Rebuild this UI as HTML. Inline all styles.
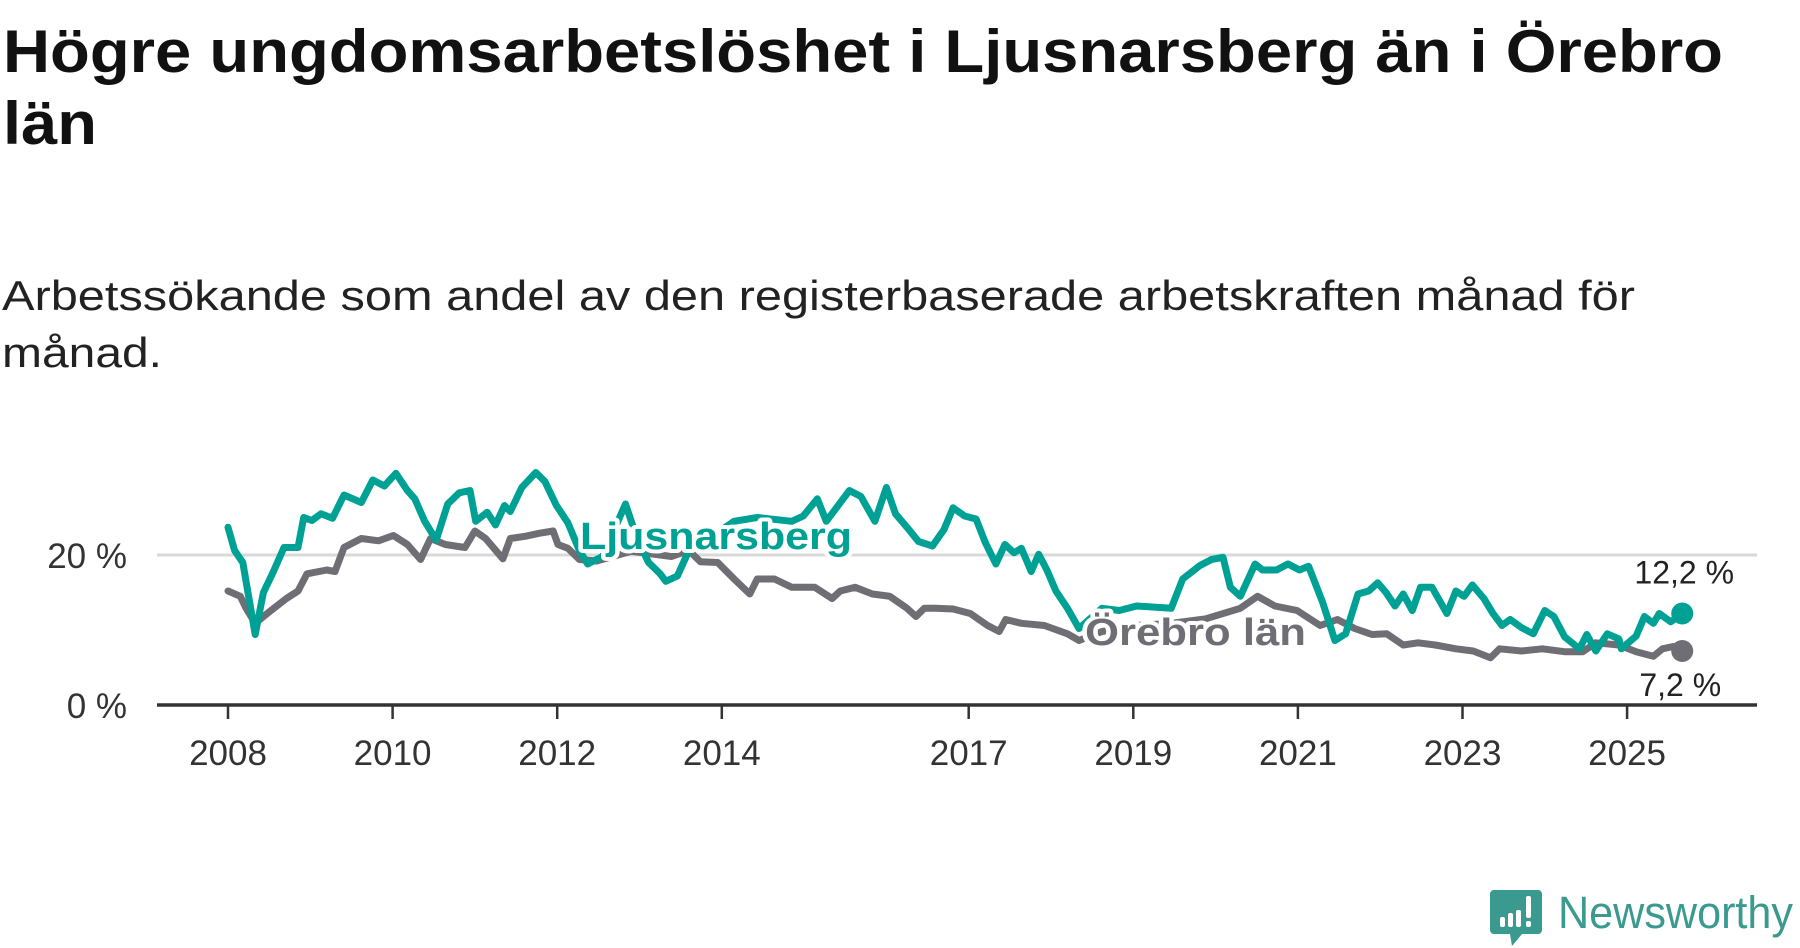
<!DOCTYPE html>
<html><head><meta charset="utf-8"><style>
html,body{margin:0;padding:0;background:#fff;}
svg{display:block;font-family:"Liberation Sans",sans-serif;}
</style></head><body>
<svg id="chart" width="1800" height="948" viewBox="0 0 1800 948" xmlns="http://www.w3.org/2000/svg">
<text x="3" y="72" font-size="60" font-weight="bold" fill="#111" textLength="1720" lengthAdjust="spacingAndGlyphs">Högre ungdomsarbetslöshet i Ljusnarsberg än i Örebro</text>
<text x="3" y="144" font-size="60" font-weight="bold" fill="#111" textLength="94" lengthAdjust="spacingAndGlyphs">län</text>
<text x="2" y="310" font-size="42" fill="#222" textLength="1633" lengthAdjust="spacingAndGlyphs">Arbetssökande som andel av den registerbaserade arbetskraften månad för</text>
<text x="2" y="367" font-size="42" fill="#222" textLength="160" lengthAdjust="spacingAndGlyphs">månad.</text>
<g id="plot"></g>
<g>
<path d="M1494 890 h44 a4 4 0 0 1 4 4 v36 a4 4 0 0 1 -4 4 h-16 l-10 12 l-2 -12 h-16 a4 4 0 0 1 -4 -4 v-36 a4 4 0 0 1 4 -4z" fill="#3a9a90"/>
<rect x="1500" y="917" width="5" height="10" rx="2" fill="#fff"/>
<rect x="1508" y="913" width="5" height="14" rx="2" fill="#fff"/>
<rect x="1516" y="910" width="5" height="17" rx="2" fill="#fff"/>
<rect x="1526" y="896" width="5" height="22" rx="2" fill="#fff"/>
<rect x="1526" y="921" width="5" height="6" rx="2" fill="#fff"/>
<text x="1558" y="928" font-size="45" fill="#3a9a90" textLength="235" lengthAdjust="spacingAndGlyphs">Newsworthy</text>
</g>
</svg>
<script>
const ljTimes=[2008.00,2008.08,2008.18,2008.33,2008.43,2008.54,2008.68,2008.85,2008.92,2009.02,2009.13,2009.27,2009.41,2009.62,2009.76,2009.90,2010.04,2010.18,2010.27,2010.39,2010.53,2010.67,2010.81,2010.94,2011.01,2011.15,2011.25,2011.36,2011.43,2011.57,2011.74,2011.85,2011.99,2012.13,2012.27,2012.37,2012.55,2012.83,2012.97,2013.11,2013.25,2013.32,2013.46,2013.60,2013.74,2014.15,2014.43,2014.85,2014.99,2015.16,2015.27,2015.55,2015.69,2015.86,2016.00,2016.11,2016.25,2016.39,2016.56,2016.70,2016.81,2016.95,2017.09,2017.20,2017.33,2017.44,2017.55,2017.64,2017.76,2017.85,2017.95,2018.06,2018.20,2018.34,2018.62,2018.83,2019.04,2019.46,2019.60,2019.81,2019.95,2020.09,2020.18,2020.30,2020.48,2020.57,2020.74,2020.88,2021.02,2021.13,2021.30,2021.45,2021.58,2021.73,2021.86,2021.97,2022.07,2022.18,2022.28,2022.39,2022.49,2022.63,2022.81,2022.92,2023.02,2023.12,2023.26,2023.37,2023.48,2023.58,2023.72,2023.86,2024.00,2024.11,2024.24,2024.42,2024.51,2024.62,2024.76,2024.90,2024.93,2025.11,2025.21,2025.32,2025.39,2025.53,2025.67];
const ljValues=[23.7,20.6,19.0,9.4,15.0,17.5,21.0,21.0,25.0,24.6,25.5,24.9,28.0,27.0,30.0,29.2,30.9,28.6,27.5,24.5,22.0,26.8,28.3,28.6,24.5,25.7,24.0,26.6,25.8,29.0,31.0,29.8,26.6,24.3,20.6,18.8,19.8,26.8,22.2,19.0,17.5,16.5,17.2,20.6,21.4,24.5,25.0,24.5,25.2,27.5,24.5,28.6,27.8,24.5,29.0,25.5,23.7,21.8,21.2,23.4,26.3,25.2,24.8,21.7,18.8,21.4,20.3,20.9,17.8,20.1,18.0,15.2,12.9,10.2,12.9,12.6,13.2,12.9,16.8,18.6,19.4,19.7,15.7,14.5,18.8,18.0,18.0,18.8,18.0,18.5,13.7,8.6,9.5,14.8,15.2,16.3,15.0,13.2,14.8,12.6,15.7,15.7,12.2,15.2,14.5,16.0,14.2,12.2,10.6,11.4,10.3,9.5,12.6,11.8,9.1,7.5,9.4,7.2,9.5,8.8,7.5,9.2,11.8,10.9,12.2,11.1,12.2];
const orTimes=[2008.00,2008.15,2008.22,2008.33,2008.50,2008.71,2008.85,2008.96,2009.20,2009.30,2009.41,2009.62,2009.83,2010.01,2010.18,2010.34,2010.46,2010.64,2010.88,2011.00,2011.13,2011.34,2011.43,2011.61,2011.78,2011.95,2012.01,2012.13,2012.27,2012.48,2012.90,2013.39,2013.60,2013.74,2013.95,2014.15,2014.34,2014.43,2014.64,2014.85,2015.13,2015.34,2015.44,2015.62,2015.83,2016.04,2016.25,2016.36,2016.46,2016.60,2016.81,2017.02,2017.23,2017.37,2017.45,2017.64,2017.92,2018.20,2018.34,2018.62,2019.04,2019.46,2019.88,2020.30,2020.51,2020.72,2020.99,2021.27,2021.48,2021.69,2021.90,2022.08,2022.28,2022.46,2022.67,2022.92,2023.13,2023.34,2023.45,2023.72,2023.97,2024.25,2024.46,2024.62,2024.90,2025.11,2025.32,2025.43,2025.56,2025.67];
const orValues=[15.2,14.5,12.9,10.9,12.4,14.2,15.2,17.5,18.0,17.8,21.0,22.2,21.9,22.6,21.4,19.4,22.2,21.4,21.0,23.2,22.2,19.5,22.2,22.5,22.9,23.2,21.4,20.9,19.4,19.2,20.5,19.8,20.6,19.1,19.0,16.8,14.8,16.8,16.8,15.7,15.7,14.2,15.2,15.7,14.8,14.5,12.9,11.8,12.9,12.9,12.8,12.2,10.6,9.8,11.4,10.9,10.6,9.5,8.6,9.8,10.6,10.9,11.5,12.9,14.5,13.2,12.6,10.6,11.4,10.2,9.4,9.5,8.0,8.3,8.0,7.5,7.2,6.3,7.5,7.2,7.5,7.1,7.1,8.3,8.0,7.1,6.5,7.5,7.8,7.2];
const yTicks=[0,20];
const yTickLabels=["0 %","20 %"];
const xTicks=[2008,2010,2012,2014,2017,2019,2021,2023,2025];
const endLabels=["12,2 %","7,2 %"];

const NS="http://www.w3.org/2000/svg";
const plot=document.getElementById('plot');
const xS=t=>228+(t-2008)*82.3;
const yS=v=>705-v*7.5;
function mk(tag,attrs,parent){const e=document.createElementNS(NS,tag);for(const k in attrs)e.setAttribute(k,attrs[k]);(parent||plot).appendChild(e);return e;}

yTicks.forEach((v,i)=>{
  if(v>0){const g=mk('line',{x1:157,x2:1757,y1:yS(v),y2:yS(v),stroke:'#d9d9d9','stroke-width':3});
  
  }
  const t=mk('text',{x:127,y:yS(v)+13,'font-size':35,fill:'#333','text-anchor':'end'});
  t.textContent=yTickLabels[i];
  
  
});
xTicks.forEach(yr=>{
  const tk=mk('line',{x1:xS(yr),x2:xS(yr),y1:705,y2:719,stroke:'#333','stroke-width':2.5});
  
  
  const t=mk('text',{x:xS(yr),y:765,'font-size':35,fill:'#333','text-anchor':'middle'});
  t.textContent=String(yr);
  
  
});
const ax=mk('line',{x1:157,x2:1757,y1:705,y2:705,stroke:'#333','stroke-width':3.5});



function series(ts,vs,color,name){
  const d=ts.map((t,i)=>(i?'L':'M')+xS(t).toFixed(1)+' '+yS(vs[i]).toFixed(1)).join(' ');
  const p=mk('path',{d:d,fill:'none',stroke:color,'stroke-width':7,'stroke-linejoin':'round','stroke-linecap':'round'});
  
  
  const n=ts.length-1;
  const c=mk('circle',{cx:xS(ts[n]),cy:yS(vs[n]),r:11,fill:color});
  
  
}
series(orTimes,orValues,'#6f6e74','orebro');
series(ljTimes,ljValues,'#00a195','ljusnarsberg');

const l1=mk('text',{x:580,y:549,'font-size':38,'font-weight':'bold',fill:'#00a195',stroke:'#fff','stroke-width':8,'paint-order':'stroke','stroke-linejoin':'round',textLength:272,lengthAdjust:'spacingAndGlyphs'});
l1.textContent='Ljusnarsberg';


const l2=mk('text',{x:1085,y:645,'font-size':38,'font-weight':'bold',fill:'#6f6e74',stroke:'#fff','stroke-width':8,'paint-order':'stroke','stroke-linejoin':'round',textLength:221,lengthAdjust:'spacingAndGlyphs'});
l2.textContent='Örebro län';



const e1=mk('text',{x:xS(ljTimes[ljTimes.length-1])+2,y:yS(ljValues[ljValues.length-1])-30,'font-size':32,fill:'#222','text-anchor':'middle'});
e1.textContent=endLabels[0];


const e2=mk('text',{x:xS(orTimes[orTimes.length-1])-2,y:yS(orValues[orValues.length-1])+45,'font-size':32,fill:'#222','text-anchor':'middle'});
e2.textContent=endLabels[1];


</script>
</body></html>
